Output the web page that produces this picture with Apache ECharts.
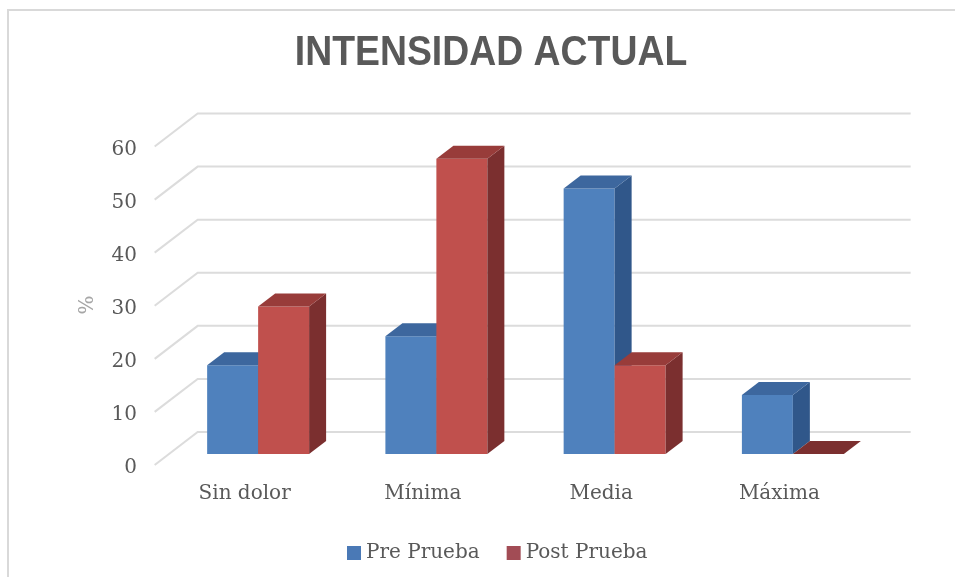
<!DOCTYPE html>
<html>
<head>
<meta charset="utf-8">
<style>
  html, body { margin: 0; padding: 0; background: #ffffff; }
  #chart { width: 955px; height: 577px; }
</style>
<script src="https://cdn.jsdelivr.net/npm/echarts@6/dist/echarts.min.js"></script>
</head>
<body>
<div id="chart"></div>
<script>
// Pain intensity groups and the share of participants (%) in each, before and after
const categories = ['Sin dolor', 'Mínima', 'Media', 'Máxima'];
const prePrueba  = [16.7, 22.2, 50.0, 11.1];
const postPrueba = [27.8, 55.6, 16.7, 0.0];
const yTicks = [0, 10, 20, 30, 40, 50, 60];
const seriesNames = ['Pre Prueba', 'Post Prueba'];

// Oblique "3D" look: the bars stand on a plane one third of the way into the box.
const BOX_DX = 43, BOX_DY = -33;     // full depth of the plot box
const PLANE = 1 / 3;                 // depth of the bar plane inside the box
const BAR_DX = 17, BAR_DY = -13;     // depth of each bar
const BAR_FRACTION = 0.286;          // bar width as a share of one category band

const palette = [
  { front: '#4f81bd', top: '#3d679e', side: '#30578a', legend: '#4a79b6' },
  { front: '#c0504d', top: '#983c3a', side: '#7b2f2f', legend: '#a24c55' }
];

const chart = echarts.init(document.getElementById('chart'), null, { renderer: 'canvas' });

function gridRender(params, api) {
  const v = api.value(1);
  const band = api.size([1, 0])[0];
  const pL = api.coord([0, v]);
  const pR = api.coord([categories.length - 1, v]);
  const left = pL[0] - band / 2;
  const right = pR[0] + band / 2;
  const y = pL[1];
  const fx = -BOX_DX * PLANE, fy = -BOX_DY * PLANE;
  const bx = BOX_DX * (1 - PLANE), by = BOX_DY * (1 - PLANE);
  return {
    type: 'polyline',
    shape: { points: [[left + fx, y + fy], [left + bx, y + by], [right + bx, y + by]] },
    style: { stroke: '#dcdcdc', lineWidth: 2, fill: null }
  };
}

function barRender(s) {
  return function (params, api) {
    const idx = api.value(0);
    const val = api.value(1);
    const top = api.coord([idx, val]);
    const base = api.coord([idx, 0]);
    const band = api.size([1, 0])[0];
    const w = band * BAR_FRACTION;
    const x0 = top[0] - w + s * w;
    const x1 = x0 + w;
    const yt = top[1];
    const yb = base[1];
    const c = palette[s];
    const children = [];
    if (yb - yt > 0.5) {
      children.push({
        type: 'rect',
        shape: { x: x0, y: yt, width: w, height: yb - yt },
        style: { fill: c.front }
      });
      children.push({
        type: 'polygon',
        shape: { points: [[x1, yt], [x1 + BAR_DX, yt + BAR_DY], [x1 + BAR_DX, yb + BAR_DY], [x1, yb]] },
        style: { fill: c.side }
      });
    }
    children.push({
      type: 'polygon',
      shape: { points: [[x0, yt], [x1, yt], [x1 + BAR_DX, yt + BAR_DY], [x0 + BAR_DX, yt + BAR_DY]] },
      style: { fill: yb - yt > 0.5 ? c.top : c.side }
    });
    return { type: 'group', children: children };
  };
}

const axisFont = { fontFamily: 'DejaVu Serif', fontSize: 20, color: '#595959' };

const option = {
  backgroundColor: '#ffffff',
  animation: false,
  graphic: [
    {
      type: 'polyline',
      shape: { points: [[8, 577], [8, 10], [955, 10]] },
      style: { stroke: '#d9d9d9', lineWidth: 2, fill: null },
      silent: true
    },
    {
      type: 'text',
      x: 491, y: 53, scaleX: 0.89,
      style: {
        text: 'INTENSIDAD ACTUAL',
        x: 0, y: 0,
        textAlign: 'center', textVerticalAlign: 'middle',
        fontFamily: 'Liberation Sans', fontWeight: 'bold', fontSize: 42,
        fill: '#595959'
      }
    },
    {
      type: 'text',
      x: 88, y: 305, rotation: Math.PI / 2,
      style: {
        text: '%',
        x: 0, y: 0,
        textAlign: 'center', textVerticalAlign: 'middle',
        fontFamily: 'DejaVu Serif', fontSize: 20,
        fill: '#a6a6a6'
      }
    }
  ],
  legend: {
    left: 342, top: 538,
    icon: 'rect', itemWidth: 14, itemHeight: 14, itemGap: 27,
    textStyle: { fontFamily: 'DejaVu Serif', fontSize: 20, color: '#595959' },
    data: [
      { name: seriesNames[0], itemStyle: { color: palette[0].legend } },
      { name: seriesNames[1], itemStyle: { color: palette[1].legend } }
    ]
  },
  grid: { left: 169, right: 73, top: 135.5, bottom: 123, containLabel: false },
  xAxis: {
    type: 'category',
    data: categories,
    boundaryGap: true,
    axisLine: { show: false },
    axisTick: { show: false },
    splitLine: { show: false },
    axisLabel: Object.assign({ margin: 30, lineHeight: 20, padding: [0, 27, 0, 0] }, axisFont)
  },
  yAxis: {
    type: 'value',
    min: 0, max: 60, interval: 10,
    axisLine: { show: false },
    axisTick: { show: false },
    splitLine: { show: false },
    axisLabel: Object.assign({ margin: 32, verticalAlign: 'top', lineHeight: 28 }, axisFont)
  },
  series: [
    {
      type: 'custom',
      name: 'grid',
      silent: true,
      clip: false,
      z: 1,
      encode: { x: 0, y: 1 },
      data: yTicks.map(v => [0, v]),
      renderItem: gridRender
    },
    {
      type: 'custom',
      name: seriesNames[0],
      clip: false,
      z: 2,
      itemStyle: { color: palette[0].legend },
      encode: { x: 0, y: 1 },
      data: prePrueba.map((v, i) => [i, v]),
      renderItem: barRender(0)
    },
    {
      type: 'custom',
      name: seriesNames[1],
      clip: false,
      z: 3,
      itemStyle: { color: palette[1].legend },
      encode: { x: 0, y: 1 },
      data: postPrueba.map((v, i) => [i, v]),
      renderItem: barRender(1)
    }
  ]
};

chart.setOption(option);
</script>
</body>
</html>
